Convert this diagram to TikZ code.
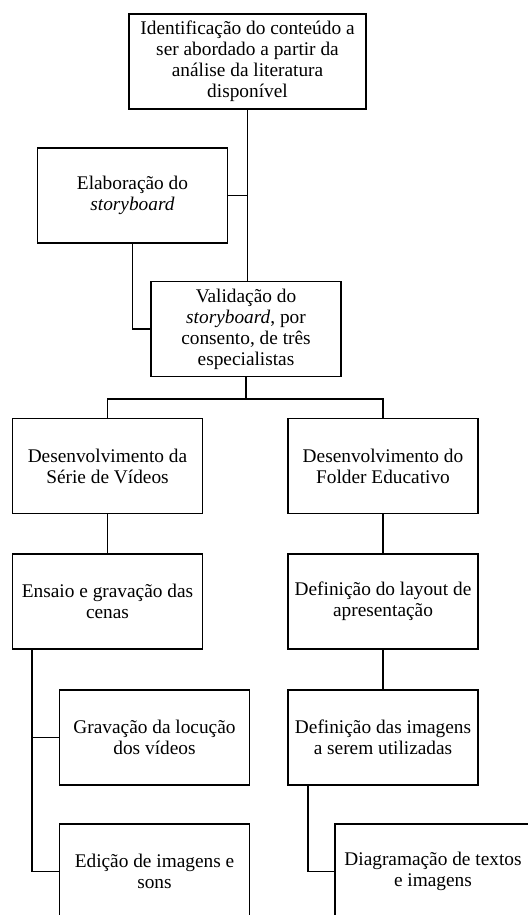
\documentclass[tikz,border=0pt]{standalone}
\usepackage{fontspec}
\setmainfont{Liberation Serif}
\usepackage{tikz}
\usetikzlibrary{positioning}
\tikzstyle{etapa}=[draw,align=center,minimum width=142.5pt,minimum height=71.25pt,inner sep=2pt,font=\fontsize{14.5}{15.75}\selectfont]
\tikzset{every picture/.style={
    line width=1.3pt
  }
}

\begin{document}
\begin{tikzpicture}[x=0.75pt,y=-0.75pt]
            \useasboundingbox (0,0) rectangle (528,915);
            \clip (0,0) rectangle (528,915);
            \node[etapa,minimum width=177.75pt] (ident) at (247.5,61.5) {Identificação do conteúdo a\\ser abordado a partir da\\análise da literatura\\disponível};
            \node[etapa] (elab) at (132.5,195.5) {Elaboração do\\\textit{storyboard}};
            \node[etapa] (valid) at (246,329) {Validação do\\\textit{storyboard}, por\\consento, de três\\especialistas};
            \node[etapa] (serie) at (107.5,466) {Desenvolvimento da\\Série de Vídeos};
            \node[etapa] (folder) at (383,466) {Desenvolvimento do\\Folder Educativo};
            \node[etapa] (ensaio) at (107.5,601.5) {Ensaio e gravação das\\cenas};
            \node[etapa] (layout) at (383,601.5) {Definição do layout de\\apresentação};
            \node[etapa] (imagens) at (383,737.5) {Definição das imagens\\a serem utilizadas};
            \node[etapa] (locucao) at (154.5,737.5) {Gravação da locução\\dos vídeos};
            \node[etapa] (edicao) at (154.5,871.5) {Edição de imagens e\\sons};
            \node[etapa,minimum width=147pt] (diagram) at (433,871.5) {Diagramação de textos\\e imagens};
            \coordinate (split) at (246,399);
            \coordinate (ramoA) at (32,649);
            \coordinate (ramoB) at (308,785);
            \draw (ident.south) -- (ident.south |- valid.north);
            \draw (elab.east) -- (elab.east -| ident.south);
            \draw (elab.south) |- (valid.west);
            \draw (valid.south) -- (split) -| (serie.north);
            \draw (split) -| (folder.north);
            \draw (serie) -- (ensaio);
            \draw (folder) -- (layout);
            \draw (layout) -- (imagens);
            \draw (ramoA) |- (locucao.west);
            \draw (ramoA) |- (edicao.west);
            \draw (ramoB) |- (diagram.west);
          \end{tikzpicture}
\end{document}
